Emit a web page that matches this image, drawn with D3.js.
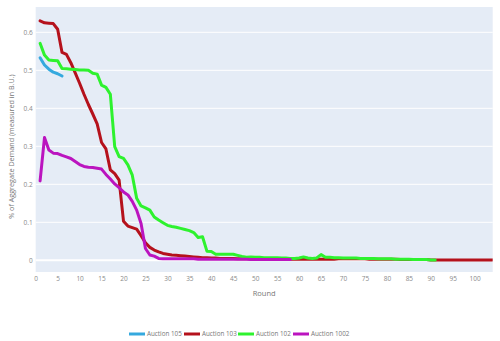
<!DOCTYPE html>
<html><head><meta charset="utf-8">
<script src="https://cdn.jsdelivr.net/npm/d3@7"></script>
<style>html,body{margin:0;padding:0;background:#fff;}svg{display:block;font-family:"Open Sans",sans-serif;}</style>
</head><body><svg id="c" width="500" height="341"></svg>
<script>
const seriesNames = ["Auction 105", "Auction 103", "Auction 102", "Auction 1002"];
const seriesColors = ["#35a9de", "#b5121c", "#2ef22e", "#bb14bf"];

const a105 = [0.533, 0.514, 0.503, 0.495, 0.491, 0.485];

const a103 = [0.630, 0.625, 0.624, 0.623, 0.608, 0.547, 0.542, 0.520, 0.493, 0.466,
  0.437, 0.410, 0.385, 0.359, 0.310, 0.293, 0.238, 0.228, 0.211, 0.103,
  0.090, 0.086, 0.082, 0.065, 0.046, 0.034, 0.027, 0.022, 0.018, 0.016,
  0.014, 0.013, 0.012, 0.011, 0.010, 0.009, 0.008, 0.007, 0.007, 0.006,
  0.006, 0.005, 0.005, 0.005, 0.005, 0.004, 0.004, 0.004, 0.004, 0.004,
  0.004, 0.004, 0.004, 0.004, 0.003, 0.003, 0.003, 0.003, 0.003, 0.003,
  0.003, 0.003, 0.003, 0.003, 0.003, 0.003, 0.003, 0.003, 0.004, 0.004,
  0.004, 0.004, 0.004, 0.004, 0.004, 0.003, 0.003, 0.003, 0.003, 0.003,
  0.003, 0.003, 0.002, 0.002, 0.002, 0.002, 0.002, 0.002, 0.002, 0.001,
  0.001, 0.001, 0.001, 0.001, 0.001, 0.001, 0.001, 0.001, 0.001, 0.001,
  0.001, 0.001, 0.001, 0.001];

const a102 = [0.571, 0.540, 0.527, 0.526, 0.525, 0.505, 0.504, 0.503, 0.502, 0.501,
  0.501, 0.500, 0.492, 0.490, 0.461, 0.455, 0.437, 0.299, 0.273, 0.268,
  0.251, 0.224, 0.163, 0.143, 0.138, 0.132, 0.114, 0.106, 0.099, 0.092,
  0.089, 0.087, 0.084, 0.081, 0.078, 0.073, 0.060, 0.062, 0.024, 0.023,
  0.016, 0.016, 0.016, 0.016, 0.016, 0.013, 0.010, 0.008, 0.009, 0.008,
  0.008, 0.007, 0.007, 0.007, 0.007, 0.006, 0.006, 0.005, 0.005, 0.006,
  0.009, 0.006, 0.005, 0.006, 0.015, 0.008, 0.008, 0.007, 0.007, 0.006,
  0.006, 0.006, 0.006, 0.005, 0.005, 0.005, 0.005, 0.004, 0.004, 0.004,
  0.004, 0.003, 0.003, 0.003, 0.003, 0.002, 0.002, 0.002, 0.002, 0.001,
  0.001];

const a1002 = [0.209, 0.323, 0.290, 0.282, 0.281, 0.276, 0.272, 0.268, 0.260, 0.252,
  0.247, 0.245, 0.244, 0.242, 0.240, 0.226, 0.214, 0.201, 0.191, 0.180,
  0.172, 0.155, 0.132, 0.097, 0.031, 0.014, 0.011, 0.005, 0.004, 0.004,
  0.004, 0.004, 0.004, 0.004, 0.004, 0.004, 0.003, 0.003, 0.003, 0.003,
  0.003, 0.003, 0.003, 0.003, 0.003, 0.003, 0.003, 0.003, 0.002, 0.002,
  0.002, 0.002, 0.002, 0.002, 0.002, 0.002, 0.002, 0.002];

const seriesValues = [a105, a103, a102, a1002];
const xTicks = [0,5,10,15,20,25,30,35,40,45,50,55,60,65,70,75,80,85,90,95,100];
const yTicks = [0, 0.1, 0.2, 0.3, 0.4, 0.5, 0.6];
const yTickLabels = ["0", "0.1", "0.2", "0.3", "0.4", "0.5", "0.6"];
const xTitle = "Round";
const yTitle = "% of Aggregate Demand (measured in B.U.)";

const svg = d3.select("#c");
const L = 35.7, R = 492.7, T = 7, B = 272;
const x = d3.scaleLinear().domain([0, 104.1]).range([L, R]);
const y = d3.scaleLinear().domain([-0.0308, 0.6666]).range([B, T]);

svg.append("rect").attr("x", L).attr("y", T).attr("width", R - L).attr("height", B - T).attr("fill", "#e5ecf6");

// grid
svg.append("g").selectAll("line").data(yTicks).join("line")
  .attr("x1", L).attr("x2", R)
  .attr("y1", d => y(d)).attr("y2", d => y(d))
  .attr("stroke", "#fff").attr("stroke-width", d => d === 0 ? 2 : 1);

// y axis
const yAxis = d3.axisLeft(y).tickValues(yTicks).tickFormat((d, i) => yTickLabels[i]).tickSize(0).tickPadding(3);
const gy = svg.append("g").attr("transform", `translate(${L},0)`).call(yAxis);
gy.select(".domain").remove();
gy.selectAll("text").attr("fill", "#8a8a8a").style("font-size", "6.5px").style("font-family", '"Open Sans",sans-serif');

// x axis
const xAxis = d3.axisBottom(x).tickValues(xTicks).tickFormat(d3.format("d")).tickSize(0).tickPadding(4);
const gx = svg.append("g").attr("transform", `translate(0,${B})`).call(xAxis);
gx.select(".domain").remove();
gx.selectAll("text").attr("fill", "#8a8a8a").style("font-size", "6.5px").style("font-family", '"Open Sans",sans-serif');

// titles
svg.append("text").attr("x", (L + R) / 2).attr("y", 296).attr("text-anchor", "middle")
  .attr("fill", "#777").style("font-size", "7.5px").text(xTitle);
svg.append("text").attr("transform", `translate(14,${(T + B) / 2 + 7}) rotate(-90)`).attr("text-anchor", "middle")
  .attr("fill", "#777").style("font-size", "7.2px").text(yTitle);

// lines
const clip = svg.append("clipPath").attr("id", "pc").append("rect")
  .attr("x", L).attr("y", T).attr("width", R - L).attr("height", B - T);
const line = d3.line().x((d, i) => x(i + 1)).y(d => y(d));
svg.append("g").attr("clip-path", "url(#pc)").selectAll("path").data(seriesValues).join("path")
  .attr("d", d => line(d)).attr("fill", "none")
  .attr("stroke", (d, i) => seriesColors[i]).attr("stroke-width", 3)
  .attr("stroke-linejoin", "round").attr("stroke-linecap", "round");

// legend
const legX = [129, 184, 238, 293];
const lg = svg.append("g").selectAll("g").data(seriesNames).join("g")
  .attr("transform", (d, i) => `translate(${legX[i]},334)`);
lg.append("line").attr("x1", 0).attr("x2", 16).attr("y1", 0).attr("y2", 0)
  .attr("stroke", (d, i) => seriesColors[i]).attr("stroke-width", 3);
lg.append("text").attr("x", 18).attr("y", 2.3).attr("fill", "#777").style("font-size", "6.3px").text(d => d);
</script></body></html>
